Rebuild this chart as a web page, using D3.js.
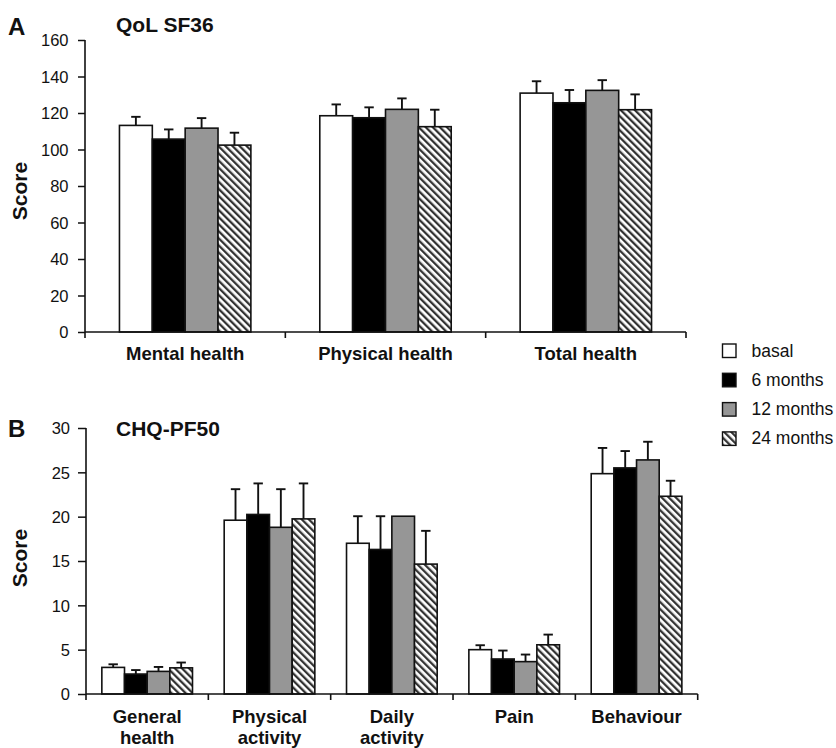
<!DOCTYPE html>
<html>
<head>
<meta charset="utf-8">
<script src="https://cdn.jsdelivr.net/npm/d3@7"></script>
<style>
  html, body { margin: 0; padding: 0; background: #fff; }
  svg { display: block; font-family: "Liberation Sans", Arial, Helvetica, sans-serif; }
</style>
</head>
<body>
<svg id="chart" width="836" height="748"></svg>
<script>
// Follow-up time points shown as grouped bars
const seriesNames = ["basal", "6 months", "12 months", "24 months"];

// Panel A: QoL SF36
const sf36Categories = ["Mental health", "Physical health", "Total health"];
const sf36Basal    = [113.2, 118.5, 130.9];
const sf36Month6   = [105.7, 117.4, 125.6];
const sf36Month12  = [111.7, 122.0, 132.4];
const sf36Month24  = [102.4, 112.5, 121.8];
const sf36ErrBasal   = [4.7, 6.2, 6.5];
const sf36ErrMonth6  = [5.3, 5.7, 7.0];
const sf36ErrMonth12 = [5.5, 6.0, 5.6];
const sf36ErrMonth24 = [6.8, 9.3, 8.4];
const sf36Ticks = [0, 20, 40, 60, 80, 100, 120, 140, 160];

// Panel B: CHQ-PF50
const chqCategories = [["General", "health"], ["Physical", "activity"], ["Daily", "activity"], ["Pain"], ["Behaviour"]];
const chqBasal    = [3.0, 19.6, 17.0, 5.0, 24.85];
const chqMonth6   = [2.25, 20.25, 16.3, 3.95, 25.5];
const chqMonth12  = [2.55, 18.8, 20.05, 3.65, 26.4];
const chqMonth24  = [2.95, 19.75, 14.65, 5.55, 22.3];
const chqErrBasal   = [0.35, 3.5, 3.05, 0.5, 2.9];
const chqErrMonth6  = [0.45, 3.5, 3.75, 0.95, 1.9];
const chqErrMonth12 = [0.5, 4.3, 0, 0.8, 2.05];
const chqErrMonth24 = [0.6, 4.0, 3.75, 1.15, 1.75];
const chqTicks = [0, 5, 10, 15, 20, 25, 30];

const svg = d3.select("#chart");
const ink = "#111";

// Hatch fill for the 24 month bars
const defs = svg.append("defs");
const hatch = defs.append("pattern")
  .attr("id", "hatch")
  .attr("patternUnits", "userSpaceOnUse")
  .attr("width", 5).attr("height", 5)
  .attr("patternTransform", "rotate(-45)");
hatch.append("rect").attr("width", 5).attr("height", 5).attr("fill", "#fff");
hatch.append("rect").attr("width", 2.3).attr("height", 5).attr("fill", "#333");

const seriesFill = d3.scaleOrdinal()
  .domain(seriesNames)
  .range(["#ffffff", "#000000", "#969696", "url(#hatch)"]);

function drawPanel(cfg) {
  const g = svg.append("g");
  const x = d3.scaleBand().domain(d3.range(cfg.categories.length)).range([cfg.x0, cfg.x1]);
  const y = d3.scaleLinear().domain([0, d3.max(cfg.ticks)]).range([cfg.yBottom, cfg.yTop]);
  const bw = x.bandwidth();
  const gw = bw * cfg.groupFrac;
  const xs = d3.scaleBand().domain(seriesNames).range([(bw - gw) / 2, (bw + gw) / 2]);

  const rows = [];
  cfg.categories.forEach((c, i) => {
    seriesNames.forEach((s, k) => {
      rows.push({ cat: i, series: s, value: cfg.means[k][i], err: cfg.errs[k][i] });
    });
  });

  // Error bars (upper half only), drawn behind the bars
  const eb = g.append("g").attr("stroke", ink).attr("stroke-width", 1.9).attr("fill", "none");
  rows.filter(d => d.err > 0).forEach(d => {
    const cx = x(d.cat) + xs(d.series) + xs.bandwidth() / 2;
    eb.append("line").attr("x1", cx).attr("x2", cx).attr("y1", y(d.value)).attr("y2", y(d.value + d.err));
    eb.append("line").attr("x1", cx - 4.7).attr("x2", cx + 4.7)
      .attr("y1", y(d.value + d.err)).attr("y2", y(d.value + d.err));
  });

  // Bars
  g.append("g").selectAll("rect").data(rows).join("rect")
    .attr("x", d => x(d.cat) + xs(d.series))
    .attr("width", xs.bandwidth())
    .attr("y", d => y(d.value))
    .attr("height", d => y(0) - y(d.value))
    .attr("fill", d => seriesFill(d.series))
    .attr("stroke", ink)
    .attr("stroke-width", 1.6);

  // Y axis
  const ya = g.append("g")
    .attr("transform", `translate(${cfg.x0},0)`)
    .call(d3.axisLeft(y).tickValues(cfg.ticks).tickSize(cfg.tickSize).tickPadding(cfg.tickPad).tickSizeOuter(0));
  ya.select(".domain").attr("stroke", ink).attr("stroke-width", 1.6)
    .attr("d", `M0,${cfg.yTop}V${cfg.yBottom}`);
  ya.selectAll(".tick line").attr("stroke", ink).attr("stroke-width", 1.5);
  ya.selectAll(".tick text").attr("fill", ink).style("font-size", "16.5px").attr("dy", "0.36em");

  // X axis: baseline with ticks at category boundaries
  const xa = g.append("g").attr("stroke", ink).attr("stroke-width", 1.6);
  xa.append("line").attr("x1", cfg.x0).attr("x2", cfg.x1).attr("y1", y(0)).attr("y2", y(0));
  const bounds = d3.range(cfg.categories.length).map(i => x(i)).concat([cfg.x1]);
  bounds.forEach(bx => {
    xa.append("line").attr("x1", bx).attr("x2", bx).attr("y1", y(0)).attr("y2", y(0) + 6);
  });

  // Category labels
  const lab = g.append("g").attr("text-anchor", "middle").attr("fill", ink)
    .style("font-size", "18.5px").style("font-weight", "bold");
  cfg.categories.forEach((c, i) => {
    const lines = Array.isArray(c) ? c : [c];
    const t = lab.append("text").attr("x", x(i) + bw / 2).attr("y", cfg.labelY);
    lines.forEach((ln, j) => {
      t.append("tspan").attr("x", x(i) + bw / 2).attr("dy", j === 0 ? 0 : cfg.lineGap).text(ln);
    });
  });

  // Y axis title
  g.append("text")
    .attr("transform", `translate(${cfg.scoreX},${cfg.scoreY}) rotate(-90)`)
    .attr("text-anchor", "middle").attr("fill", ink)
    .style("font-size", "21px").style("font-weight", "bold")
    .text("Score");

  // Panel letter and title
  g.append("text").attr("x", 8).attr("y", cfg.letterY).attr("fill", ink)
    .style("font-size", "24px").style("font-weight", "bold").text(cfg.letter);
  g.append("text").attr("x", 116).attr("y", cfg.titleY).attr("fill", ink)
    .style("font-size", "21px").style("font-weight", "bold").text(cfg.title);
}

drawPanel({
  letter: "A", letterY: 35, title: "QoL SF36", titleY: 31.5,
  categories: sf36Categories,
  means: [sf36Basal, sf36Month6, sf36Month12, sf36Month24],
  errs: [sf36ErrBasal, sf36ErrMonth6, sf36ErrMonth12, sf36ErrMonth24],
  ticks: sf36Ticks,
  x0: 85, x1: 686, yTop: 40, yBottom: 332,
  groupFrac: 0.656, tickSize: 7, tickPad: 9.5,
  labelY: 359.5, lineGap: 22, scoreX: 27, scoreY: 191
});

drawPanel({
  letter: "B", letterY: 436.5, title: "CHQ-PF50", titleY: 436,
  categories: chqCategories,
  means: [chqBasal, chqMonth6, chqMonth12, chqMonth24],
  errs: [chqErrBasal, chqErrMonth6, chqErrMonth12, chqErrMonth24],
  ticks: chqTicks,
  x0: 86, x1: 697.7, yTop: 428, yBottom: 694,
  groupFrac: 0.741, tickSize: 8, tickPad: 8,
  labelY: 722.5, lineGap: 21.5, scoreX: 27, scoreY: 558
});

// Legend
const legend = svg.append("g").attr("transform", "translate(722.5,344)");
seriesNames.forEach((s, i) => {
  const row = legend.append("g").attr("transform", `translate(0,${i * 29.3})`);
  row.append("rect").attr("width", 13.5).attr("height", 13.5)
    .attr("fill", seriesFill(s)).attr("stroke", ink).attr("stroke-width", 1.4);
  row.append("text").attr("x", 29).attr("y", 12.5).attr("fill", ink)
    .style("font-size", "17.5px").text(s);
});
</script>
</body>
</html>
